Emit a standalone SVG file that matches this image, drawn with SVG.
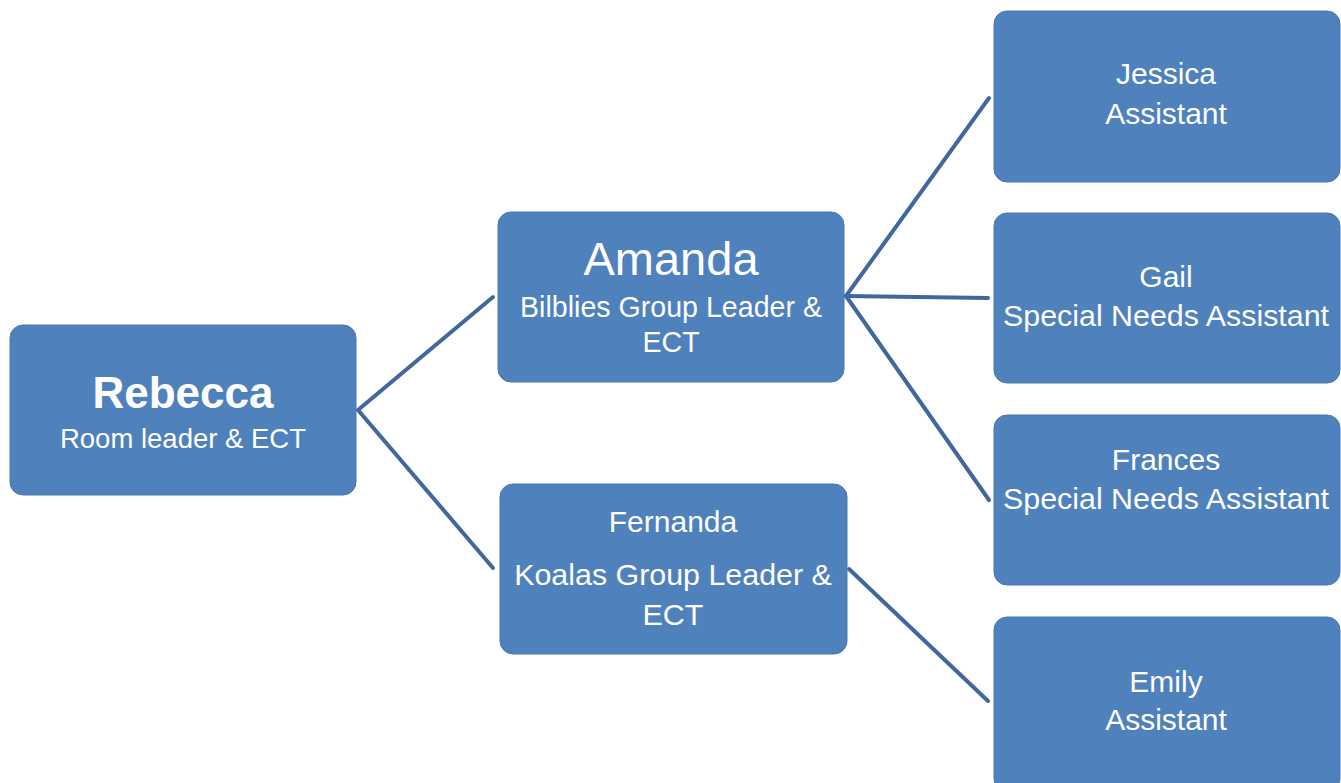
<svg xmlns="http://www.w3.org/2000/svg" width="1341" height="783" viewBox="0 0 1341 783">
<style>
.box{fill:#4F81BD;stroke:#4A78B2;stroke-width:1}
.t{fill:#ffffff;font-family:"Liberation Sans",Arial,sans-serif;text-anchor:middle}
.c{stroke:#41689C;stroke-width:4;fill:none;stroke-linecap:round;stroke-linejoin:round}
</style>
<rect width="1341" height="783" fill="#ffffff"/>
<g id="connectors">
<polyline class="c" points="493,297 358,410 493,568"/>
<line class="c" x1="846" y1="296" x2="989" y2="98"/>
<line class="c" x1="846" y1="296" x2="988" y2="298"/>
<line class="c" x1="846" y1="296" x2="989" y2="500"/>
<line class="c" x1="849" y1="569" x2="988" y2="701"/>
</g>
<g id="rebecca">
<rect class="box" x="10" y="325" width="346" height="170" rx="13"/>
<text class="t" x="183" y="408" font-size="44" font-weight="bold">Rebecca</text>
<text class="t" x="183" y="448" font-size="27.5">Room leader &amp; ECT</text>
</g>
<g id="amanda">
<rect class="box" x="498" y="212" width="346" height="170" rx="13"/>
<text class="t" x="671" y="275" font-size="47">Amanda</text>
<text class="t" x="671" y="317" font-size="28.6">Bilblies Group Leader &amp;</text>
<text class="t" x="671" y="352" font-size="28.6">ECT</text>
</g>
<g id="fernanda">
<rect class="box" x="500" y="484" width="347" height="170" rx="13"/>
<text class="t" x="673" y="532" font-size="30">Fernanda</text>
<text class="t" x="673" y="585" font-size="30.4">Koalas Group Leader &amp;</text>
<text class="t" x="673" y="625" font-size="30.4">ECT</text>
</g>
<g id="jessica">
<rect class="box" x="994" y="11" width="346" height="171" rx="13"/>
<text class="t" x="1166" y="84" font-size="30">Jessica</text>
<text class="t" x="1166" y="124" font-size="30">Assistant</text>
</g>
<g id="gail">
<rect class="box" x="994" y="213" width="346" height="170" rx="13"/>
<text class="t" x="1166" y="287" font-size="30">Gail</text>
<text class="t" x="1166" y="326" font-size="30.4">Special Needs Assistant</text>
</g>
<g id="frances">
<rect class="box" x="994" y="415" width="346" height="170" rx="13"/>
<text class="t" x="1166" y="470" font-size="30">Frances</text>
<text class="t" x="1166" y="509" font-size="30.4">Special Needs Assistant</text>
</g>
<g id="emily">
<rect class="box" x="994" y="617" width="346" height="175" rx="13"/>
<text class="t" x="1166" y="692" font-size="30">Emily</text>
<text class="t" x="1166" y="730" font-size="30">Assistant</text>
</g>
</svg>
